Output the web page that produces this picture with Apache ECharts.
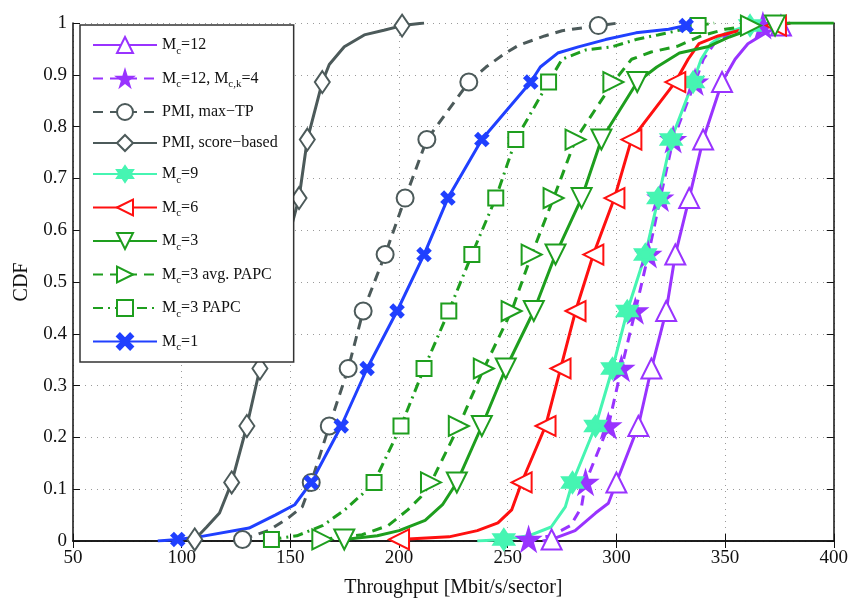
<!DOCTYPE html>
<html>
<head>
<meta charset="utf-8">
<script src="https://cdn.jsdelivr.net/npm/echarts@6/dist/echarts.min.js"></script>
<style>html,body{margin:0;padding:0;background:#fff}#c{width:851px;height:603px}</style>
</head>
<body>
<div id="c"></div>
<script>
// ---- data ----
const xTicks = [50, 100, 150, 200, 250, 300, 350, 400];
const yTicks = [0, 0.1, 0.2, 0.3, 0.4, 0.5, 0.6, 0.7, 0.8, 0.9, 1];
// CDF levels where markers sit
const markerLevels = [0.003, 0.113, 0.222, 0.333, 0.444, 0.553, 0.662, 0.775, 0.886, 0.995];

const seriesNames = ['M_c=12', 'M_c=12, M_c,k=4', 'PMI, max\u2212TP', 'PMI, score\u2212based', 'M_c=9',
  'M_c=6', 'M_c=3', 'M_c=3 avg. PAPC', 'M_c=3 PAPC', 'M_c=1'];

// throughput at each marker level
const mc12X    = [270.2, 300.0, 310.1, 316.1, 322.9, 327.1, 333.5, 339.9, 348.6, 375.7];
const mc12k4X  = [259.6, 285.8, 296.3, 302.3, 308.7, 314.7, 320.2, 326.1, 336.2, 367.4];
const pmiMaxX  = [128.0, 159.6, 167.9, 176.6, 183.5, 193.6, 202.8, 212.8, 232.1, 291.7];
const pmiScoreX= [106.0, 123.0, 130.0, 136.0, 141.0, 147.0, 154.0, 157.8, 164.7, 201.4];
const mc9X     = [248.2, 279.8, 290.4, 298.2, 305.0, 313.3, 319.3, 325.2, 335.3, 361.5];
const mc6X     = [200.0, 256.4, 267.4, 274.3, 281.2, 289.4, 299.1, 306.9, 327.1, 373.4];
const mc3X     = [174.8, 226.6, 238.1, 249.1, 262.0, 272.0, 284.0, 293.1, 309.6, 373.0];
const mc3avgX  = [164.7, 214.7, 227.5, 239.0, 251.8, 261.0, 271.1, 281.2, 298.6, 361.9];
const mc3papcX = [141.3, 188.5, 200.9, 211.5, 222.9, 233.5, 244.5, 253.7, 268.8, 337.6];
const mc1X     = [98.2, 159.6, 173.4, 185.3, 199.1, 211.5, 222.5, 238.1, 260.6, 332.1];

// extra curve points between markers (no marker drawn)
const mc12Extra    = [[266,0],[281,0.02],[290.4,0.054],[296.3,0.073],[354.6,0.93],[360.5,0.96],[368.3,0.98],[380,1]];
const mc12k4Extra  = [[270,0.01],[279,0.03],[283.9,0.065],[340,0.93],[345,0.96],[352,0.98],[360,0.99],[372,1]];
const pmiMaxExtra  = [[140.4,0.021],[149.5,0.046],[155.5,0.066],[240,0.915],[249,0.942],[255,0.957],[267,0.975],[275,0.985],[301,1]];
const pmiScoreExtra= [[111.5,0.027],[117.4,0.054],[167.9,0.92],[174.8,0.954],[184,0.977],[193,0.986],[211.5,1]];
const mc9Extra     = [[236,0],[259.6,0.01],[270,0.027],[276.5,0.066],[339,0.93],[343.5,0.96],[350,0.98],[357,0.99],[370,1]];
const mc6Extra     = [[223,0.008],[236,0.02],[245.5,0.035],[251.8,0.06],[333,0.93],[338,0.96],[346.8,0.975],[356,0.985],[366,0.99],[380,1]];
const mc3Extra     = [[190,0.01],[200,0.02],[212,0.04],[220,0.07],[318.6,0.915],[329,0.942],[342,0.954],[352,0.973],[361,0.987],[378,1],[400,1]];
const mc3avgExtra  = [[183,0.012],[195,0.03],[204,0.06],[210,0.085],[307,0.93],[316,0.944],[328,0.955],[339,0.975],[350,0.988],[368,1]];
const mc3papcExtra = [[153,0.01],[165,0.03],[175,0.06],[183,0.09],[275,0.93],[286,0.948],[298,0.954],[309,0.968],[319,0.977],[330,0.987],[345,1]];
const mc1Extra     = [[89,0],[108,0.008],[131,0.025],[143,0.05],[152,0.07],[265,0.915],[273,0.942],[282.5,0.954],[295,0.968],[309,0.981],[324,0.988],[341,1]];

// ---- styling ----
const FONT = 'Liberation Serif';
const PURPLE = '#9933FF', GRAY = '#4C5A5A', AQUA = '#46F5B2', RED = '#FF1010', GREEN = '#1E9E1E', BLUE = '#2040FF';
const STAR = 'path://M50,0 L61,35 L98,35 L68,57 L79,91 L50,70 L21,91 L32,57 L2,35 L39,35 Z';
const HEXA = 'path://M50,0 L93,75 L7,75 Z M50,100 L7,25 L93,25 Z';
const XMARK = 'path://M0,18 L18,0 L50,32 L82,0 L100,18 L68,50 L100,82 L82,100 L50,68 L18,100 L0,82 L32,50 Z';

function build(markX, extra) {
  const pts = markX.map((x, i) => ({ value: [x, markerLevels[i]] }))
    .concat(extra.map(p => ({ value: [p[0], p[1]], symbol: 'none' })));
  pts.sort((a, b) => (a.value[1] - b.value[1]) || (a.value[0] - b.value[0]));
  return pts;
}

const defs = [
  { x: mc12X, e: mc12Extra, c: PURPLE, t: 'solid', s: 'emptyTriangle', sz: 20, r: 0 },
  { x: mc12k4X, e: mc12k4Extra, c: PURPLE, t: [10, 7], s: STAR, sz: 21, r: 0 },
  { x: pmiMaxX, e: pmiMaxExtra, c: GRAY, t: [10, 7], s: 'emptyCircle', sz: 17, r: 0 },
  { x: pmiScoreX, e: pmiScoreExtra, c: GRAY, t: 'solid', s: 'emptyDiamond', sz: [15, 22], r: 0 },
  { x: mc9X, e: mc9Extra, c: AQUA, t: 'solid', s: HEXA, sz: 20, r: 0 },
  { x: mc6X, e: mc6Extra, c: RED, t: 'solid', s: 'emptyTriangle', sz: 20, r: 90 },
  { x: mc3X, e: mc3Extra, c: GREEN, t: 'solid', s: 'emptyTriangle', sz: 20, r: 180 },
  { x: mc3avgX, e: mc3avgExtra, c: GREEN, t: [10, 7], s: 'emptyTriangle', sz: 20, r: -90 },
  { x: mc3papcX, e: mc3papcExtra, c: GREEN, t: [10, 5, 2, 5], s: 'emptyRect', sz: 15, r: 0 },
  { x: mc1X, e: mc1Extra, c: BLUE, t: 'solid', s: XMARK, sz: 12, r: 0 }
];

const series = defs.map((d, i) => ({
  name: seriesNames[i],
  type: 'line',
  data: build(d.x, d.e),
  showSymbol: true,
  showAllSymbol: true,
  symbol: d.s,
  symbolSize: d.sz,
  symbolRotate: d.r,
  lineStyle: { color: d.c, width: 3, type: d.t },
  itemStyle: { color: d.c, borderColor: d.c, borderWidth: 2.5 },
  emphasis: { disabled: true },
  animation: false,
  z: 2
}));

function legendFmt(name) {
  const parts = name.split(/M_(c,k|c)/);
  let out = '';
  for (let i = 0; i < parts.length; i++) {
    if (i % 2 === 0) { if (parts[i]) out += '{m|' + parts[i] + '}'; }
    else out += '{m|M}{s|' + parts[i] + '}';
  }
  return out;
}

const chart = echarts.init(document.getElementById('c'), null, { renderer: 'canvas' });
const axisLbl = { fontFamily: FONT, fontSize: 19, color: '#111' };
chart.setOption({
  backgroundColor: '#fff',
  animation: false,
  grid: { left: 73, right: 15, top: 23, bottom: 62 },
  xAxis: [{
    type: 'value', min: 50, max: 400, interval: 50,
    name: 'Throughput [Mbit/s/sector]', nameLocation: 'middle', nameGap: 37,
    nameTextStyle: { fontFamily: FONT, fontSize: 20, color: '#111' },
    axisLine: { lineStyle: { color: '#111', width: 1.5 } },
    axisTick: { inside: true, length: 7, lineStyle: { color: '#111' } },
    axisLabel: Object.assign({ margin: 8, formatter: v => xTicks.includes(v) ? String(v) : '' }, axisLbl),
    splitLine: { show: true, lineStyle: { color: '#9a9a9a', width: 1, type: [1, 5] } }
  }, {
    type: 'value', min: 50, max: 400, interval: 50, position: 'top',
    axisLine: { lineStyle: { color: '#111', width: 1.5 } },
    axisTick: { inside: true, length: 7, lineStyle: { color: '#111' } },
    axisLabel: { show: false }, splitLine: { show: false }
  }],
  yAxis: [{
    type: 'value', min: 0, max: 1, interval: 0.1,
    name: 'CDF', nameLocation: 'middle', nameGap: 41,
    nameTextStyle: { fontFamily: FONT, fontSize: 20, color: '#111' },
    axisLine: { show: true, lineStyle: { color: '#111', width: 1.5 } },
    axisTick: { show: true, inside: true, length: 7, lineStyle: { color: '#111' } },
    axisLabel: Object.assign({ margin: 6, formatter: v => {
      const t = yTicks.find(k => Math.abs(k - v) < 1e-6);
      return t === undefined ? '' : (t === 0 ? '0' : t === 1 ? '1' : String(Math.round(t * 10) / 10));
    } }, axisLbl),
    splitLine: { show: true, lineStyle: { color: '#9a9a9a', width: 1, type: [1, 5] } }
  }, {
    type: 'value', min: 0, max: 1, interval: 0.1, position: 'right',
    axisLine: { show: true, lineStyle: { color: '#111', width: 1.5 } },
    axisTick: { show: true, inside: true, length: 7, lineStyle: { color: '#111' } },
    axisLabel: { show: false }, splitLine: { show: false }
  }],
  legend: {
    orient: 'vertical', left: 80, top: 25,
    padding: [11, 16, 9, 12],
    itemWidth: 64, itemHeight: 20, itemGap: 13,
    backgroundColor: '#fff', borderColor: '#333', borderWidth: 1.5,
    data: seriesNames,
    formatter: legendFmt,
    selectedMode: false,
    textStyle: {
      fontFamily: FONT, fontSize: 16, color: '#111',
      rich: {
        m: { fontFamily: FONT, fontSize: 16, color: '#111' },
        s: { fontFamily: FONT, fontSize: 11, color: '#111', padding: [12, 0, 0, 0] }
      }
    }
  },
  series: series
});
</script>
</body>
</html>
